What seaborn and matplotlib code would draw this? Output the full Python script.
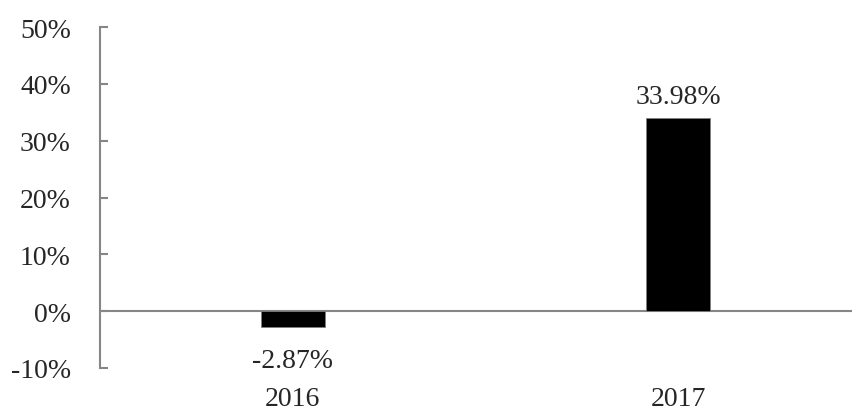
import matplotlib
matplotlib.use("Agg")
import matplotlib.pyplot as plt
import seaborn as sns
import pandas as pd
from matplotlib.ticker import FuncFormatter

years = ["2016", "2017"]
returns = [-2.87, 33.98]
labels = ["-2.87%", "33.98%"]
yticks = [-10, 0, 10, 20, 30, 40, 50]

sns.set_style("white")
plt.rcParams["font.family"] = ["Liberation Serif", "DejaVu Serif"]

df = pd.DataFrame({"year": years, "ret": returns})

fig = plt.figure(figsize=(8.63, 4.14), dpi=100)
ax = fig.add_axes([0.1159, 0.1087, 0.871, 0.8236])
sns.barplot(data=df, x="year", y="ret", color="black", width=0.166,
            saturation=1, ax=ax, edgecolor="#7f7f7f", linewidth=0.6)

ax.set_xlim(-0.5, 1.45)
ax.set_ylim(-10, 50)
ax.set_yticks(yticks)
ax.yaxis.set_major_formatter(FuncFormatter(lambda v, _: f"{v:.0f}%"))
ax.axhline(0, color="#868686", linewidth=1.5, zorder=0)

for s in ["top", "right", "bottom"]:
    ax.spines[s].set_visible(False)
ax.spines["left"].set_color("#868686")
ax.spines["left"].set_linewidth(1.5)

fs = 20
ax.tick_params(axis="y", direction="in", length=6, width=1.5, color="#868686",
               left=True, pad=21, labelsize=fs)
ax.tick_params(axis="x", length=0, pad=13, labelsize=fs)
ax.set_xlabel("")
ax.set_ylabel("")

for i, (v, t) in enumerate(zip(returns, labels)):
    if v >= 0:
        ax.annotate(t, (i, v), xytext=(0, 11), textcoords="offset points",
                    ha="center", va="baseline", fontsize=fs)
    else:
        ax.annotate(t, (i, v), xytext=(0, -15), textcoords="offset points",
                    ha="center", va="top", fontsize=fs)

fig.savefig("out.png", dpi=100)
